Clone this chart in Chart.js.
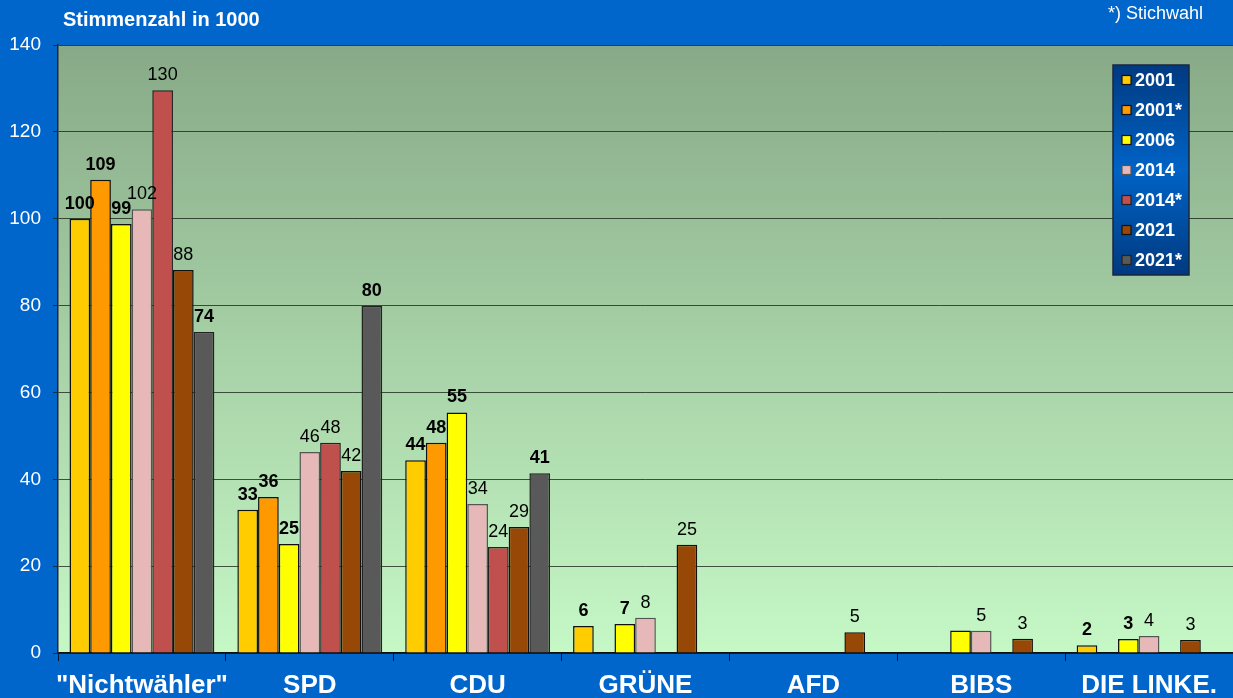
<!DOCTYPE html>
<html>
<head>
<meta charset="utf-8">
<script src="https://cdn.jsdelivr.net/npm/chart.js@4.4.1/dist/chart.umd.min.js"></script>
<style>
html,body{margin:0;padding:0;background:#0066CC;}
#wrap{width:1233px;height:698px;position:relative;}
canvas{display:block;}
</style>
</head>
<body>
<div id="wrap"><canvas id="c" width="1233" height="698"></canvas></div>
<script>
const categories = ['"Nichtwähler"', 'SPD', 'CDU', 'GRÜNE', 'AFD', 'BIBS', 'DIE LINKE.'];
const seriesNames = ['2001', '2001*', '2006', '2014', '2014*', '2021', '2021*'];
const v2001  = [100,   33,   44.4, 6.2,  null, null, 1.8];
const v2001s = [109,   35.9, 48.4, null, null, null, null];
const v2006  = [98.8,  25.1, 55.4, 6.7,  null, 5.2,  3.2];
const v2014  = [102.2, 46.3, 34.3, 8.1,  null, 5.1,  3.9];
const v2014s = [129.6, 48.4, 24.4, null, null, null, null];
const v2021  = [88.2,  41.9, 29.0, 24.9, 4.8,  3.3,  3.0];
const v2021s = [73.9,  79.9, 41.4, null, null, null, null];
const yTicks = [0, 20, 40, 60, 80, 100, 120, 140];
const boldSeries = ['2001', '2001*', '2006', '2021*'];
const hiddenLabels = [['2006', 'BIBS']];
const titleText = 'Stimmenzahl in 1000';
const noteText = '*) Stichwahl';

const seriesValues = [v2001, v2001s, v2006, v2014, v2014s, v2021, v2021s];
const colors = ['#FFCC00', '#FF9900', '#FFFF00', '#E6B8B7', '#C0504D', '#974706', '#595959'];
const borders = ['#111', '#111', '#111', '#555', '#222', '#111', '#222'];

const FONT = '"Liberation Sans", Arial, sans-serif';

const bgPlugin = {
  id: 'bg',
  beforeDraw(chart) {
    const ctx = chart.ctx, a = chart.chartArea;
    ctx.save();
    ctx.fillStyle = '#0066CC';
    ctx.fillRect(0, 0, chart.width, chart.height);
    const g = ctx.createLinearGradient(0, a.top, 0, a.bottom);
    g.addColorStop(0, '#87A987');
    g.addColorStop(1, '#C6F8C6');
    ctx.fillStyle = g;
    ctx.fillRect(a.left, a.top, a.right - a.left, a.bottom - a.top);
    ctx.restore();
  },
  afterDraw(chart) {
    const ctx = chart.ctx;
    ctx.save();
    // title and note
    ctx.fillStyle = '#fff';
    ctx.font = 'bold 20px ' + FONT;
    ctx.textBaseline = 'middle';
    ctx.textAlign = 'left';
    ctx.fillText(titleText, 63, 20);
    ctx.font = '18px ' + FONT;
    ctx.textAlign = 'right';
    ctx.fillText(noteText, 1203, 14);

    // value labels
    chart.data.datasets.forEach((ds, di) => {
      const meta = chart.getDatasetMeta(di);
      const bold = boldSeries.includes(ds.label);
      meta.data.forEach((el, i) => {
        const v = ds.data[i];
        if (v === null || v === undefined) return;
        if (hiddenLabels.some(h => h[0] === ds.label && h[1] === categories[i])) return;
        ctx.font = (bold ? 'bold ' : '') + '18px ' + FONT;
        ctx.fillStyle = '#000';
        ctx.textAlign = 'center';
        ctx.textBaseline = 'alphabetic';
        ctx.fillText(String(Math.round(v)), el.x, el.y - 10);
      });
    });

    // legend box
    const lx = 1113, ly = 65, lw = 76, lh = 210;
    const lg = ctx.createLinearGradient(0, ly, 0, ly + lh);
    lg.addColorStop(0, '#003A80');
    lg.addColorStop(0.5, '#0063C6');
    lg.addColorStop(1, '#003A80');
    ctx.fillStyle = lg;
    ctx.fillRect(lx, ly, lw, lh);
    ctx.strokeStyle = '#1A2740';
    ctx.lineWidth = 1.5;
    ctx.strokeRect(lx, ly, lw, lh);
    chart.data.datasets.forEach((ds, di) => {
      const cy = 80 + di * 30;
      ctx.fillStyle = ds.backgroundColor;
      ctx.fillRect(1122, cy - 4.5, 9, 9);
      ctx.strokeStyle = ds.borderColor;
      ctx.lineWidth = 1.2;
      ctx.strokeRect(1122, cy - 4.5, 9, 9);
      ctx.fillStyle = '#fff';
      ctx.font = 'bold 18px ' + FONT;
      ctx.textAlign = 'left';
      ctx.textBaseline = 'middle';
      ctx.fillText(ds.label, 1135, cy + 1);
    });
    ctx.restore();
  }
};

const datasets = seriesNames.map((name, i) => ({
  label: name,
  data: seriesValues[i],
  backgroundColor: colors[i],
  borderColor: borders[i],
  borderWidth: 1.5,
  categoryPercentage: 0.863,
  barPercentage: 1.0
}));

new Chart(document.getElementById('c'), {
  type: 'bar',
  data: { labels: categories, datasets },
  options: {
    responsive: false,
    devicePixelRatio: 1,
    animation: false,
    layout: { padding: { top: 45, right: 0, left: 0, bottom: 0 } },
    plugins: { legend: { display: false }, tooltip: { enabled: false }, title: { display: false } },
    scales: {
      x: {
        afterFit(s) { s.height = 45; },
        grid: { display: true, offset: true, drawOnChartArea: false, drawTicks: true, tickLength: 8, color: 'rgba(0,0,0,0.75)', lineWidth: 1 },
        border: { display: true, color: '#111', width: 1.5 },
        ticks: { color: '#fff', font: { family: FONT, size: 26, weight: 'bold' }, padding: 9, maxRotation: 0, autoSkip: false }
      },
      y: {
        min: 0, max: 140,
        afterFit(s) { s.width = 58; },
        afterBuildTicks(s) { s.ticks = yTicks.map(v => ({ value: v })); },
        grid: { color: 'rgba(20,30,20,0.75)', lineWidth: 1, tickLength: 5, drawTicks: true },
        border: { display: true, color: '#222', width: 1.5 },
        ticks: { color: '#fff', font: { family: FONT, size: 19 }, padding: 12 }
      }
    }
  },
  plugins: [bgPlugin]
});
</script>
</body>
</html>
